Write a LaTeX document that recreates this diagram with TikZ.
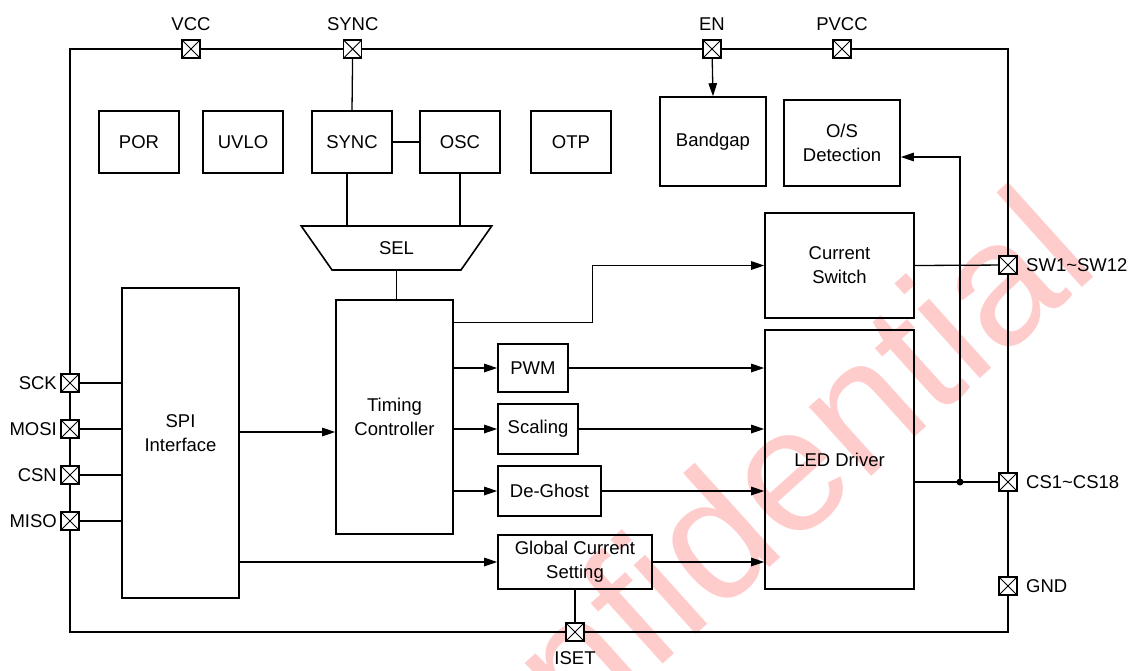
\documentclass[tikz,border=0pt]{standalone}
\usepackage{fontspec}
\setmainfont{Liberation Sans}
\usetikzlibrary{arrows.meta,shapes.geometric}

\begin{document}
\begin{tikzpicture}[
        x=1pt, y=-1pt,
        >={Triangle[length=13pt,width=8.5pt]},
        every node/.style={font=\fontsize{18.5}{24}\selectfont},
        label distance=5pt,
        blk/.style={draw, line width=1.6pt, align=center, inner sep=0pt},
        pin/.style={draw, line width=1.3pt, fill=white, minimum size=18pt, inner sep=0pt,
            path picture={\draw[line width=1pt]
                (path picture bounding box.south west) -- (path picture bounding box.north east)
                (path picture bounding box.north west) -- (path picture bounding box.south east);}},
        wire/.style={line width=1.3pt}
    ]

        \useasboundingbox (0,0) rectangle (1137,670);

        % Watermark
        \node[rotate=42, text=red, opacity=0.2, font=\fontsize{176}{176}\selectfont]
            (wmark) at (715,533) {Confidential};

        % Chip outline
        \draw[line width=2.5pt] (70,49) rectangle (1008,632);

        % Pins
        \node[pin, label=above:VCC] (vcc) at (191,49) {};
        \node[pin, label=above:SYNC] (psync) at (352.7,49) {};
        \node[pin, label=above:EN] (en) at (712,49) {};
        \node[pin, label=above:PVCC] (pvcc) at (842,49) {};
        \node[pin, label={[label distance=0pt]left:SCK}] (sck) at (70,383) {};
        \node[pin, label={[label distance=0pt]left:MOSI}] (mosi) at (70,429) {};
        \node[pin, label={[label distance=0pt]left:CSN}] (csn) at (70,475) {};
        \node[pin, label={[label distance=0pt]left:MISO}] (miso) at (70,521) {};
        \node[pin, label=right:SW1\textasciitilde SW12] (sw) at (1008,265) {};
        \node[pin, label=right:CS1\textasciitilde CS18] (cs) at (1008,482) {};
        \node[pin, label=right:GND] (gnd) at (1008,586) {};
        \node[pin, label={[label distance=6pt]below:ISET}] (iset) at (575,632) {};

        % Top row blocks
        \node[blk, minimum width=80pt, minimum height=62pt] (por) at (139,142) {POR};
        \node[blk, minimum width=80pt, minimum height=62pt] (uvlo) at (243,142) {UVLO};
        \node[blk, minimum width=80pt, minimum height=62pt] (sync) at (352,142) {SYNC};
        \node[blk, minimum width=80pt, minimum height=62pt] (osc) at (460,142) {OSC};
        \node[blk, minimum width=80pt, minimum height=62pt] (otp) at (571,142) {OTP};
        \node[blk, minimum width=106pt, minimum height=89pt] (bandgap) at (713,141.5) {Bandgap};
        \node[blk, minimum width=116pt, minimum height=86pt] (osdet) at (842,143) {O/S\\Detection};

        \node[blk, trapezium, shape border rotate=180, trapezium stretches=true,
            trapezium angle=57.5, minimum width=191pt, minimum height=44pt] (sel) at (396.5,248) {SEL};

        % Main blocks
        \node[blk, minimum width=117pt, minimum height=310pt] (spi) at (180.5,443) {SPI\\Interface\\[-4pt]};
        \node[blk, minimum width=117pt, minimum height=234pt] (timing) at (394.5,417) {Timing\\Controller};
        \node[blk, minimum width=70pt, minimum height=48pt] (pwm) at (533,368) {PWM};
        \node[blk, minimum width=80pt, minimum height=50pt] (scaling) at (538,429) {Scaling};
        \node[blk, minimum width=103pt, minimum height=50pt] (deghost) at (549.5,491) {De-Ghost};
        \node[blk, minimum width=154pt, minimum height=54pt] (gcs) at (575,562) {Global Current\\Setting};
        \node[blk, minimum width=149pt, minimum height=105pt] (cursw) at (839.5,265.5) {Current\\Switch};
        \node[blk, minimum width=149pt, minimum height=259pt] (led) at (839.5,459.5) {LED Driver};

        % Plain wires
        \draw[wire] (psync) -- (sync.north);
        \draw[wire] (sync.east) -- (osc.west);
        \draw[wire] ([xshift=-5pt]sync.south) -- ([xshift=-5pt]sync.south |- sel.north);
        \draw[wire] (osc.south) -- (osc.south |- sel.north);
        \draw[wire] (sel.south) -- (sel.south |- timing.north);
        \foreach \p in {sck, mosi, csn, miso}
            \draw[wire] (\p) -- (\p -| spi.west);
        \draw[wire] (gcs.south) -- (iset);
        \draw[wire] (cursw.east) -- (sw);
        \draw[wire] (cs -| led.east) -- (cs);

        % Arrows
        \draw[wire, ->] (en) -- (bandgap.north);
        \draw[wire, ->] ([yshift=11pt]spi.east) -- ([yshift=11pt]spi.east -| timing.west);
        \draw[wire, ->] (gcs.west -| spi.east) -- (gcs.west);
        \draw[wire, ->] ([yshift=-23pt]timing.north east) -- ++(139,0) |- (cursw.west);
        \foreach \b in {pwm, scaling, deghost} {
            \draw[wire, ->] (\b.west -| timing.east) -- (\b.west);
            \draw[wire, ->] (\b.east) -- (\b.east -| led.west);
        }
        \draw[wire, ->] (gcs.east) -- (gcs.east -| led.west);

        % Feedback to O/S detection
        \coordinate (jn) at (960,482);
        \fill (jn) circle (3.5pt);
        \draw[wire, ->] (jn) |- ([yshift=-14pt]osdet.east);

    \end{tikzpicture}
\end{document}
